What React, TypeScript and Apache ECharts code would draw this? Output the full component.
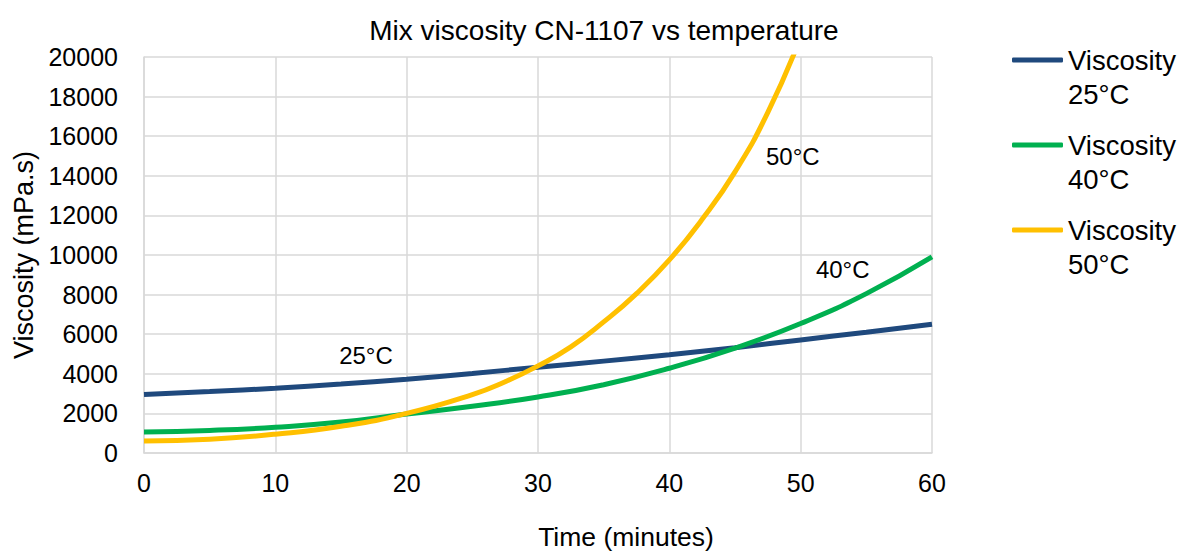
import React, { useEffect, useRef } from "react";
import * as echarts from "echarts";

const minutes = [0, 5, 10, 15, 20, 25, 30, 35, 40, 45, 50, 55, 60];
const visc25 = [2960, 3100, 3270, 3480, 3730, 4020, 4330, 4640, 4960, 5320, 5710, 6100, 6500];
const visc40 = [1060, 1140, 1300, 1560, 1970, 2360, 2830, 3450, 4280, 5300, 6540, 8050, 9900];
const minutes50 = [0, 5, 10, 15, 20, 25, 27.5, 30, 32.5, 35, 37.5, 40, 42.5, 45, 47.5, 50];
const visc50 = [605, 700, 950, 1350, 2000, 2950, 3600, 4400, 5360, 6620, 8050, 9750, 11800, 14200, 17200, 21000];

const seriesNames = ["Viscosity 25°C", "Viscosity 40°C", "Viscosity 50°C"];
const colors = ["#1F497D", "#00B050", "#FFC000"];
const annotationTexts = ["25°C", "40°C", "50°C"];
const annotationCoords = [
  [16.9, 4900],
  [53.2, 9250],
  [49.4, 15000],
];

const FONT = "Liberation Sans, Arial, sans-serif";

export default function App() {
  const ref = useRef<HTMLDivElement>(null);
  useEffect(() => {
    if (!ref.current) return;
    const chart = echarts.init(ref.current, null, { renderer: "svg" });
    const datasets = [
      minutes.map((m, i) => [m, visc25[i]]),
      minutes.map((m, i) => [m, visc40[i]]),
      minutes50.map((m, i) => [m, visc50[i]]),
    ];
    const legendTops = [9, 94, 179];
    chart.setOption({
      animation: false,
      textStyle: { fontFamily: FONT },
      title: {
        text: "Mix viscosity CN-1107 vs temperature",
        left: 599,
        top: 11,
        textAlign: "center",
        textStyle: { fontFamily: FONT, fontSize: 28, fontWeight: "normal", color: "#000" },
      },
      legend: seriesNames.map((n, i) => ({
        data: [n],
        orient: "vertical",
        left: 1012,
        top: legendTops[i],
        padding: 0,
        icon: "roundRect",
        itemWidth: 51,
        itemHeight: 5,
        formatter: (name: string) => " \n" + name.replace(" ", "\n"),
        textStyle: {
          fontFamily: FONT,
          fontSize: 27.5,
          color: "#000",
          lineHeight: 34,
        },
      })),
      grid: {
        left: 144,
        right: 245,
        top: 57,
        bottom: 99,
        containLabel: false,
        outerBoundsMode: "none",
      },
      xAxis: {
        type: "value",
        min: 0,
        max: 60,
        interval: 10,
        name: "Time (minutes)",
        nameLocation: "middle",
        nameGap: 70,
        nameTextStyle: { fontFamily: FONT, fontSize: 26.5, color: "#000", padding: [0, 0, 0, 176] },
        axisLine: { show: true, lineStyle: { color: "#d9d9d9", width: 1.5 } },
        axisTick: { show: false },
        axisLabel: { fontFamily: FONT, fontSize: 25, color: "#000", margin: 17 },
        splitLine: { show: true, lineStyle: { color: "#d9d9d9", width: 1.5 } },
      },
      yAxis: {
        type: "value",
        min: 0,
        max: 20000,
        interval: 2000,
        name: "Viscosity (mPa.s)",
        nameLocation: "middle",
        nameGap: 103,
        nameTextStyle: { fontFamily: FONT, fontSize: 27, color: "#000" },
        axisLine: { show: true, lineStyle: { color: "#d9d9d9", width: 1.5 } },
        axisTick: { show: false },
        axisLabel: {
          fontFamily: FONT,
          fontSize: 25,
          color: "#000",
          margin: 26,
          formatter: (v: number) => String(v),
        },
        splitLine: { show: true, lineStyle: { color: "#d9d9d9", width: 1.5 } },
      },
      series: seriesNames.map((n, i) => ({
        name: n,
        type: "line",
        data: datasets[i],
        smooth: 0.5,
        showSymbol: false,
        symbol: "none",
        clip: true,
        lineStyle: { color: colors[i], width: 5 },
        itemStyle: { color: colors[i] },
        z: 3 + i,
        markPoint: {
          symbol: "circle",
          symbolSize: 0,
          silent: true,
          label: {
            show: true,
            position: "inside",
            formatter: annotationTexts[i],
            fontFamily: FONT,
            fontSize: 24,
            color: "#000",
          },
          data: [{ coord: annotationCoords[i] }],
        },
      })),
    });
    return () => chart.dispose();
  }, []);
  return (
    <div
      ref={ref}
      style={{ position: "fixed", left: 0, top: 0, width: 1177, height: 552, background: "#fff" }}
    />
  );
}
